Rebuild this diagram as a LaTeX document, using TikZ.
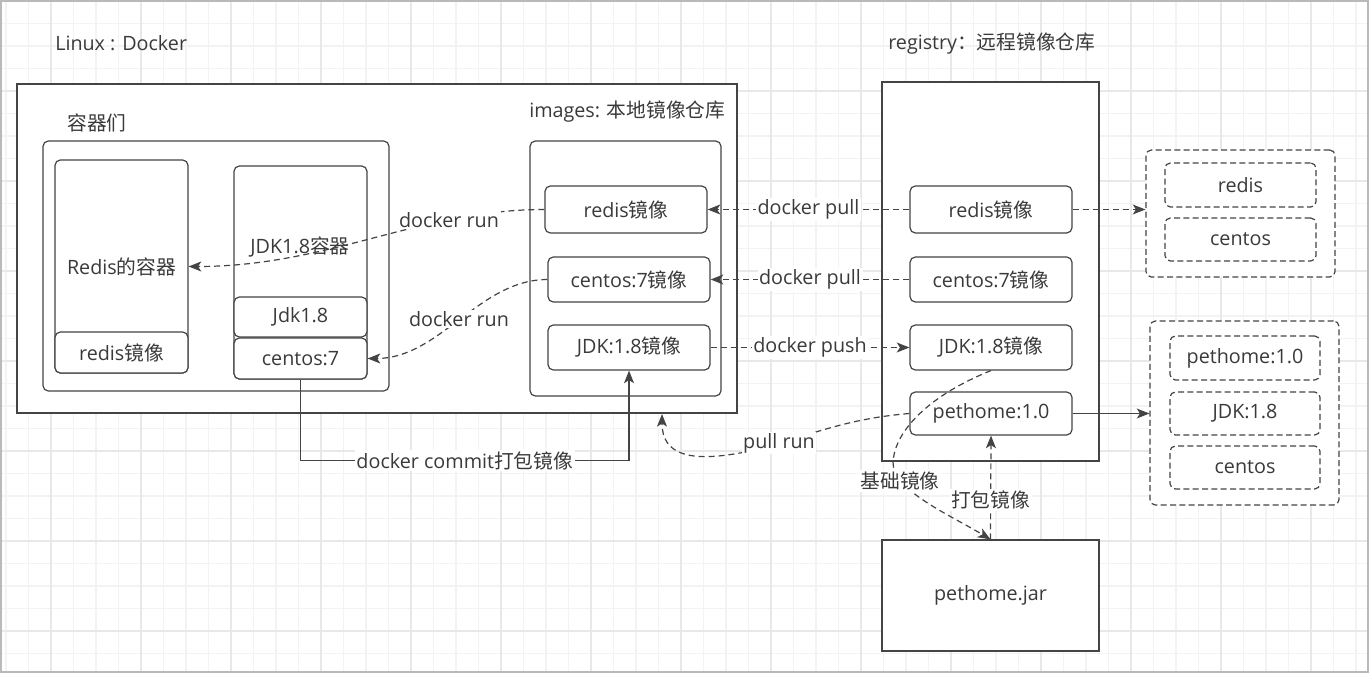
\documentclass[tikz,border=0pt]{standalone}
\usepackage{fontspec}
\setmainfont{Open Sans}
\newfontfamily\cjk{Noto Sans CJK SC}
\usetikzlibrary{arrows.meta}
\definecolor{ln}{HTML}{444444}
\definecolor{tx}{HTML}{3A3A3A}
\definecolor{gminor}{HTML}{F3F3F3}
\definecolor{gmajor}{HTML}{E8E8E8}
\newcommand\zh[1]{{\cjk #1}}
% \mybox{style}{name}{x1}{y1}{x2}{y2}{text}
\newcommand\mybox[7]{\node[#1, minimum width={(#5-#3)*0.75pt}, minimum height={(#6-#4)*0.75pt}] (#2) at ({(#3+#5)/2},{(#4+#6)/2}) {#7};}
\begin{document}
\begin{tikzpicture}[x=0.75pt,y=-0.75pt,
  font=\fontsize{14.8pt}{17pt}\selectfont, text=tx,
  box/.style={draw=ln, line width=0.9pt, fill=white, inner sep=0pt},
  rbox/.style={box, rounded corners=4pt},
  dbox/.style={rbox, dash pattern=on 4.5pt off 2.5pt},
  conn/.style={draw=ln, line width=0.9pt},
  dconn/.style={conn, dash pattern=on 4.5pt off 3pt},
  arr/.style={-{Stealth[length=9.5pt,width=7.5pt,inset=2.4pt]}},
  lbl/.style={fill=white, inner sep=1.2pt},
  txt/.style={inner sep=0pt}
]
\useasboundingbox (0,0) rectangle (1369,673);
% grid
\foreach \x in {6,28.5,...,1366} \draw[gminor, line width=0.9pt] (\x,0) -- (\x,673);
\foreach \y in {1,23.5,...,671} \draw[gminor, line width=0.9pt] (0,\y) -- (1369,\y);
\foreach \x in {51,141,...,1311} \draw[gmajor, line width=0.9pt] (\x,0) -- (\x,673);
\foreach \y in {1,91,...,631} \draw[gmajor, line width=0.9pt] (0,\y) -- (1369,\y);
\draw[gray!55, line width=1.2pt] (0.8,0.8) rectangle (1368.2,672.2);

% titles
\node[txt, anchor=west] (tLinux) at (55,43) {Linux : Docker};
\node[txt, anchor=west] (tReg) at (888,44) {registry\zh{：远程镜像仓库}};

% Linux side
\mybox{box}{linux}{17}{84}{737}{413}{}
\node[txt, anchor=west] (tConts) at (67,123) {\zh{容器们}};
\node[txt, anchor=west] (tImages) at (529,112) {images: \zh{本地镜像仓库}};
\mybox{rbox}{conts}{43}{141}{389}{391}{}
\mybox{rbox}{redisC}{55}{160}{188}{373}{Redis\zh{的容器}}
\mybox{rbox}{redisImg}{55}{332}{188}{373}{redis\zh{镜像}}
\mybox{rbox}{jdkC}{234}{166}{367}{379}{}
\node[txt] (jdkTxt) at (300,247) {JDK1.8\zh{容器}};
\mybox{rbox}{jdk18}{234}{297}{367}{337}{Jdk1.8}
\mybox{rbox}{cent7}{234}{338}{367}{379}{centos:7}
\mybox{rbox}{images}{530}{141}{721}{396}{}
\mybox{rbox}{imRedis}{545}{186}{707}{233}{redis\zh{镜像}}
\mybox{rbox}{imCent}{548}{257}{710}{302}{centos:7\zh{镜像}}
\mybox{rbox}{imJdk}{548}{325}{710}{370}{JDK:1.8\zh{镜像}}

% registry side
\mybox{box}{reg}{882}{82}{1099}{461}{}
\mybox{rbox}{rgRedis}{910}{186}{1072}{233}{redis\zh{镜像}}
\mybox{rbox}{rgCent}{910}{257}{1072}{302}{centos:7\zh{镜像}}
\mybox{rbox}{rgJdk}{910}{325}{1072}{370}{JDK:1.8\zh{镜像}}
\mybox{rbox}{rgPet}{910}{392}{1072}{435}{pethome:1.0}
\mybox{box}{jar}{882}{540}{1099}{651}{pethome.jar}

% dashed groups
\mybox{dbox}{grp1}{1146}{150}{1335}{277}{}
\mybox{dbox}{g1a}{1165}{163}{1316}{207}{redis}
\mybox{dbox}{g1b}{1165}{218}{1316}{261}{centos}
\mybox{dbox}{grp2}{1150}{321}{1339}{505}{}
\mybox{dbox}{g2a}{1170}{336}{1320}{380}{pethome:1.0}
\mybox{dbox}{g2b}{1170}{392}{1320}{435}{JDK:1.8}
\mybox{dbox}{g2c}{1170}{446}{1320}{489}{centos}

% connectors
\draw[dconn, arr] (imRedis.west) .. controls +(-125,0) and +(140,0) .. node[lbl, pos=0.27] (lRun1) {docker run} (redisC.east);
\draw[dconn, arr] (imCent.west) .. controls +(-68,0) and +(72,0) .. node[lbl, pos=0.5] (lRun2) {docker run} (cent7.east);
\draw[dconn, arr] (rgRedis.west) -- node[lbl] (lPull1) {docker pull} (imRedis.east);
\draw[dconn, arr] (rgCent.west) -- node[lbl] (lPull2) {docker pull} (imCent.east);
\draw[dconn, arr] (imJdk.east) -- node[lbl] (lPush) {docker push} (rgJdk.west);
\draw[dconn, arr] (rgRedis.east) -- (rgRedis.east -| grp1.west);
\draw[conn, arr] (rgPet.east) -- (rgPet.east -| grp2.west);
\draw[conn, arr] (cent7.south) -- ++(0,81) -| node[lbl, pos=0.25] (lCommit) {docker commit\zh{打包镜像}} (imJdk.south);

\coordinate (pullEnd) at (662,414);
\draw[dconn, arr] (rgPet.west) .. controls (830,420) and (790,445) .. (740,453) .. controls (690,462) and (662,455) .. (pullEnd);
\node[lbl] (lPullRun) at (779,443) {pull run};

\draw[dconn, arr] (rgJdk.south) .. controls (930,395) and (895,430) .. (893,462) .. controls (892,490) and (950,515) .. (jar.north);
\node[lbl] (lBase) at (900,481) {\zh{基础镜像}};
\draw[dconn, arr] (jar.north) -- node[lbl, pos=0.38] (lPack) {\zh{打包镜像}} (rgPet.south);
\end{tikzpicture}
\end{document}
